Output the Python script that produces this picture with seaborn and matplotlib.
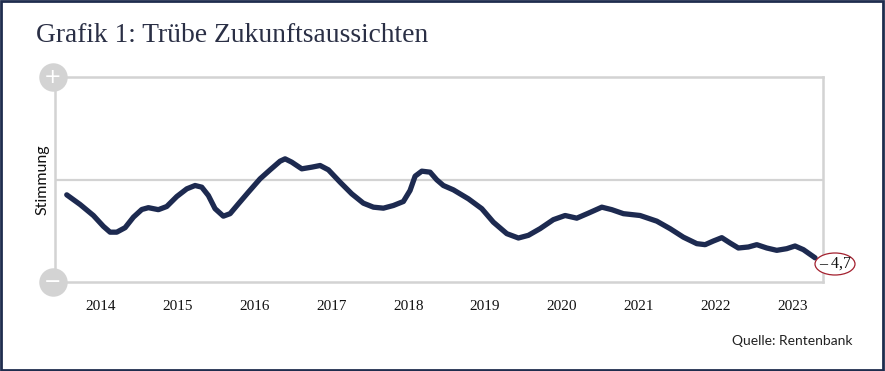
import matplotlib
matplotlib.use("Agg")
import matplotlib.pyplot as plt
from matplotlib.patches import Ellipse, Rectangle
import seaborn as sns
import pandas as pd

# ---- data (decimal year, sentiment value) ----
years = [2013.553, 2013.727, 2013.900, 2014.030, 2014.117, 2014.204, 2014.313, 2014.421,
         2014.530, 2014.616, 2014.746, 2014.855, 2014.986, 2015.116, 2015.224, 2015.311,
         2015.397, 2015.484, 2015.592, 2015.680, 2015.788, 2015.918, 2016.070, 2016.201,
         2016.331, 2016.396, 2016.483, 2016.613, 2016.743, 2016.852, 2016.960, 2017.112,
         2017.264, 2017.415, 2017.546, 2017.676, 2017.806, 2017.936, 2018.023, 2018.089,
         2018.176, 2018.284, 2018.371, 2018.457, 2018.587, 2018.783, 2018.957, 2019.108,
         2019.283, 2019.434, 2019.564, 2019.716, 2019.889, 2020.042, 2020.194, 2020.345,
         2020.520, 2020.650, 2020.801, 2021.018, 2021.236, 2021.409, 2021.582, 2021.757,
         2021.865, 2021.973, 2022.082, 2022.190, 2022.298, 2022.428, 2022.538, 2022.668,
         2022.798, 2022.928, 2023.036, 2023.145, 2023.297]
values = [-0.92, -1.50, -2.16, -2.81, -3.16, -3.16, -2.89, -2.26,
          -1.80, -1.69, -1.81, -1.62, -1.02, -0.56, -0.36, -0.46,
          -0.96, -1.75, -2.20, -2.05, -1.46, -0.76, 0.04, 0.58,
          1.10, 1.24, 1.04, 0.64, 0.74, 0.84, 0.58, -0.16,
          -0.86, -1.42, -1.66, -1.72, -1.56, -1.32, -0.66, 0.20,
          0.50, 0.44, -0.02, -0.36, -0.62, -1.16, -1.75, -2.56,
          -3.25, -3.51, -3.35, -2.95, -2.41, -2.16, -2.32, -2.02,
          -1.66, -1.81, -2.05, -2.16, -2.50, -2.95, -3.46, -3.85,
          -3.91, -3.69, -3.49, -3.81, -4.11, -4.05, -3.91, -4.11,
          -4.25, -4.15, -3.99, -4.21, -4.70]
tick_years = [2014, 2015, 2016, 2017, 2018, 2019, 2020, 2021, 2022, 2023]
tick_labels = [str(y) for y in tick_years]
title = "Grafik 1: Trübe Zukunftsaussichten"
ylabel = "Stimmung"
source = "Quelle: Rentenbank"
end_label = "– 4,7"

df = pd.DataFrame({"Jahr": years, "Stimmung": values})

sns.set_style("white")
W, H = 885, 371
fig = plt.figure(figsize=(W / 100, H / 100), dpi=100)
fig.patch.set_facecolor("white")

ax = fig.add_axes([55 / W, 1 - 282 / H, 768 / W, 205 / H])
navy = "#1d2a50"
grid = "#d3d3d3"

sns.lineplot(data=df, x="Jahr", y="Stimmung", ax=ax, color=navy, linewidth=3.8,
             solid_joinstyle="round", solid_capstyle="round", zorder=5)

ax.set_xlim(2013.40, 2023.40)
ax.set_ylim(-6.15, 6.15)
ax.axhline(0, color=grid, lw=1.6, zorder=1)
for s in ax.spines.values():
    s.set_color(grid)
    s.set_linewidth(1.8)
ax.set_yticks([])
ax.set_xticks(tick_years)
ax.set_xticklabels(tick_labels, family="Liberation Serif", fontsize=11, color="#111111")
ax.tick_params(axis="x", length=0, pad=13)
ax.set_xlabel("")
ax.set_ylabel(ylabel, family="Lato", fontsize=11.5, color="#111111", labelpad=4)

# + / - circles on the left axis
for yy, sym in [(1, "+"), (0, "−")]:
    ax.plot([-2 / 768], [yy], "o", transform=ax.transAxes, ms=20.5, color=grid,
            mec="none", clip_on=False, zorder=6)
    ax.text(-2 / 768, yy, sym, transform=ax.transAxes, ha="center", va="center",
            color="white", fontsize=15, family="DejaVu Sans", zorder=7)

# end label in ellipse
fig.patches.append(Ellipse((835 / W, 1 - 264 / H), 40 / W, 22 / H,
                           transform=fig.transFigure, facecolor="white",
                           edgecolor="#a3202e", lw=0.9, zorder=10))
fig.text(835 / W, 1 - 264 / H, end_label, ha="center", va="center",
         family="Liberation Serif", fontsize=11.5, color="#111111", zorder=11)

fig.text(36 / W, 1 - 35 / H, title, ha="left", va="center",
         family="Liberation Serif", fontsize=19.8, color="#2a2f45")
fig.text(853 / W, 1 - 341 / H, source, ha="right", va="center",
         family="Lato", fontsize=10, color="#222222")

fig.patches.append(Rectangle((0.001, 0.002), 0.997, 0.995, transform=fig.transFigure,
                             fill=False, edgecolor="#1f2d4e", lw=2))

fig.savefig("out.png", dpi=100)
